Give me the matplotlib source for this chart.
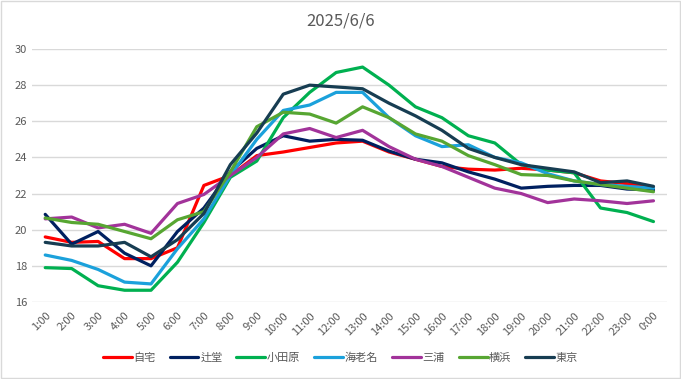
import matplotlib.pyplot as plt
from matplotlib.patches import Rectangle

plt.rcParams['font.family'] = ['Noto Sans CJK JP', 'DejaVu Sans']

hours = ['1:00', '2:00', '3:00', '4:00', '5:00', '6:00', '7:00', '8:00', '9:00', '10:00',
         '11:00', '12:00', '13:00', '14:00', '15:00', '16:00', '17:00', '18:00', '19:00',
         '20:00', '21:00', '22:00', '23:00', '0:00']

jitaku   = [19.6, 19.3, 19.35, 18.4, 18.4, 19.0, 22.45, 23.0, 24.1, 24.3, 24.55, 24.8,
            24.9, 24.3, 23.9, 23.5, 23.35, 23.3, 23.4, 23.3, 23.15, 22.7, 22.55, 22.35]
tsujido  = [20.85, 19.2, 19.9, 18.7, 18.0, 19.9, 21.2, 23.2, 24.5, 25.2, 24.9, 25.0,
            24.95, 24.35, 23.9, 23.7, 23.2, 22.8, 22.3, 22.4, 22.45, 22.45, 22.25, 22.2]
odawara  = [17.9, 17.85, 16.9, 16.65, 16.65, 18.2, 20.4, 22.9, 23.8, 26.2, 27.6, 28.7,
            29.0, 28.0, 26.8, 26.2, 25.2, 24.8, 23.6, 23.3, 23.15, 21.2, 20.95, 20.45]
ebina    = [18.6, 18.3, 17.8, 17.1, 17.0, 18.95, 20.6, 23.0, 25.0, 26.6, 26.9, 27.6,
            27.6, 26.2, 25.2, 24.6, 24.7, 24.0, 23.7, 23.1, 22.7, 22.5, 22.4, 22.3]
miura    = [20.6, 20.7, 20.1, 20.3, 19.8, 21.45, 21.95, 23.0, 24.0, 25.3, 25.6, 25.1,
            25.5, 24.6, 23.9, 23.5, 22.9, 22.3, 22.0, 21.5, 21.7, 21.6, 21.45, 21.6]
yokohama = [20.65, 20.4, 20.3, 19.9, 19.5, 20.55, 21.0, 23.2, 25.7, 26.5, 26.4, 25.9,
            26.8, 26.2, 25.3, 24.9, 24.1, 23.6, 23.05, 23.0, 22.7, 22.5, 22.3, 22.1]
tokyo    = [19.3, 19.1, 19.1, 19.3, 18.5, 19.45, 20.9, 23.6, 25.35, 27.5, 28.0, 27.9,
            27.8, 27.0, 26.3, 25.5, 24.5, 24.0, 23.6, 23.4, 23.2, 22.6, 22.7, 22.4]

series = [('自宅', jitaku, '#FF0000'),
          ('辻堂', tsujido, '#002060'),
          ('小田原', odawara, '#00B050'),
          ('海老名', ebina, '#1BA1DB'),
          ('三浦', miura, '#A2339A'),
          ('横浜', yokohama, '#57A632'),
          ('東京', tokyo, '#173D52')]

fig = plt.figure(figsize=(6.81, 3.79), dpi=100)
fig.patches.append(Rectangle((0.001, 0.003), 0.997, 0.995, transform=fig.transFigure,
                             fill=False, edgecolor='#D9D9D9', linewidth=1))
ax = fig.add_axes([0.047, 0.2032, 0.932, 0.6675])

x = range(len(hours))
for name, vals, col in series:
    ax.plot(x, vals, color=col, linewidth=2.3, label=name, solid_capstyle='round')

ax.set_xlim(-0.5, len(hours) - 0.5)
ax.set_ylim(16, 30)
ax.set_yticks(range(16, 31, 2))
ax.set_xticks(list(x))
ax.set_xticklabels(hours, rotation=45, ha='right', rotation_mode='anchor')
ax.grid(axis='y', color='#D9D9D9', linewidth=1)
ax.set_axisbelow(True)
for s in ax.spines.values():
    s.set_visible(False)
ax.tick_params(axis='both', length=0, labelsize=8, labelcolor='#595959')
ax.tick_params(axis='x', pad=6)

fig.text(0.5, 0.945, '2025/6/6', ha='center', va='center', fontsize=12, color='#595959')

fig.legend(loc='center', bbox_to_anchor=(0.5, 0.055), ncol=7, frameon=False,
           fontsize=8, handlelength=2.6, handletextpad=0.15, columnspacing=1.25,
           labelcolor='#595959')

fig.savefig('out.png', dpi=100)
